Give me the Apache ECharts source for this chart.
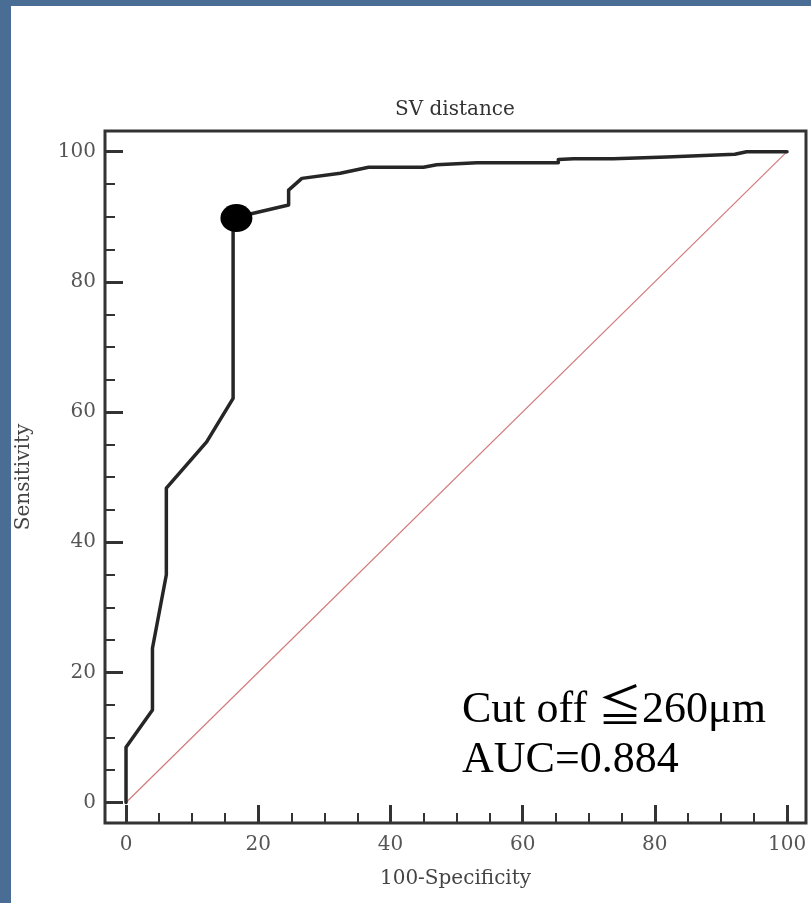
<!DOCTYPE html>
<html>
<head>
<meta charset="utf-8">
<script src="https://cdn.jsdelivr.net/npm/echarts@6/dist/echarts.min.js"></script>
<style>
  html, body { margin: 0; padding: 0; width: 811px; height: 903px; overflow: hidden; background: #4a6d96; }
  #panel { position: absolute; left: 11px; top: 6px; right: 0; bottom: 0; background: #ffffff; }
  #chart { position: absolute; left: 0; top: 0; width: 811px; height: 903px; }
</style>
</head>
<body>
<div id="panel"></div>
<div id="chart"></div>
<script>
// ROC curve (100-Specificity, Sensitivity)
const rocX = [0, 0, 4.0, 4.0, 6.1, 6.1, 12.2, 16.2, 16.2, 24.6, 24.6, 26.6, 32.4, 36.7, 45.0, 47.0, 53.1, 65.4, 65.4, 67.7, 73.7, 81.8, 92.1, 93.9, 100];
const rocY = [0, 8.5, 14.2, 23.7, 35.0, 48.3, 55.4, 62.1, 89.8, 91.8, 94.1, 95.9, 96.7, 97.6, 97.6, 98.0, 98.3, 98.3, 98.8, 98.9, 98.9, 99.2, 99.6, 100, 100];
// Reference diagonal
const diagX = [0, 100];
const diagY = [0, 100];
// Cut-off point
const cutX = [16.7];
const cutY = [89.8];
// Tick values
const majorTicks = [0, 20, 40, 60, 80, 100];
const minorTicks = [5, 10, 15, 25, 30, 35, 45, 50, 55, 65, 70, 75, 85, 90, 95];
// Texts
const titleText = 'SV distance';
const xName = '100-Specificity';
const yName = 'Sensitivity';
const noteLines = ['Cut off \u2266260\u03bcm', 'AUC=0.884'];

const X_MIN = -3.18, X_MAX = 102.87;
const Y_MIN = -3.15, Y_MAX = 103.18;

const FONT = "'DejaVu Serif', serif";
const zip = (a, b) => a.map((v, i) => [v, b[i]]);

const chart = echarts.init(document.getElementById('chart'), null, { renderer: 'canvas' });

const baseAxis = {
  type: 'value', min: X_MIN, max: X_MAX,
  axisLine: { show: false, onZero: false }, splitLine: { show: false }
};

chart.setOption({
  animation: false,
  backgroundColor: 'transparent',
  title: {
    text: titleText, left: 395, top: 100, padding: 0,
    textStyle: { fontFamily: FONT, fontSize: 20, fontWeight: 'normal', color: '#333' }
  },
  grid: {
    left: 105, top: 131, width: 701, height: 692,
    show: true, borderColor: '#333', borderWidth: 3, backgroundColor: 'transparent'
  },
  xAxis: [
    Object.assign({}, baseAxis, {
      position: 'bottom', offset: 0,
      name: xName, nameLocation: 'middle', nameGap: 46,
      nameTextStyle: { fontFamily: FONT, fontSize: 20, color: '#444' },
      axisTick: { show: true, inside: true, length: 18, customValues: majorTicks, lineStyle: { color: '#333', width: 3 } },
      axisLabel: { show: true, customValues: majorTicks, margin: 12, fontFamily: FONT, fontSize: 20, color: '#555' }
    }),
    Object.assign({}, baseAxis, {
      position: 'bottom', offset: 0,
      axisTick: { show: true, inside: true, length: 10, customValues: minorTicks, lineStyle: { color: '#333', width: 2 } },
      axisLabel: { show: false }
    })
  ],
  yAxis: [
    Object.assign({}, baseAxis, {
      min: Y_MIN, max: Y_MAX,
      position: 'left', offset: 0,
      name: yName, nameLocation: 'middle', nameGap: 71,
      nameTextStyle: { fontFamily: FONT, fontSize: 20, color: '#444' },
      axisTick: { show: true, inside: true, length: 18, customValues: majorTicks, lineStyle: { color: '#333', width: 3 } },
      axisLabel: { show: true, customValues: majorTicks, margin: 9, fontFamily: FONT, fontSize: 20, color: '#555' }
    }),
    Object.assign({}, baseAxis, {
      min: Y_MIN, max: Y_MAX,
      position: 'left', offset: 0,
      axisTick: { show: true, inside: true, length: 10, customValues: minorTicks, lineStyle: { color: '#333', width: 2 } },
      axisLabel: { show: false }
    })
  ],
  series: [
    {
      type: 'line', xAxisIndex: 0, yAxisIndex: 0,
      data: zip(diagX, diagY), symbol: 'none', silent: true,
      lineStyle: { color: '#d27a7a', width: 1.2 }, z: 2
    },
    {
      type: 'line', xAxisIndex: 0, yAxisIndex: 0,
      data: zip(rocX, rocY), symbol: 'none',
      lineStyle: { color: '#262626', width: 3.5, join: 'round', cap: 'round' }, z: 3
    },
    {
      type: 'scatter', xAxisIndex: 0, yAxisIndex: 0,
      data: zip(cutX, cutY), symbol: 'circle', symbolSize: [32, 28],
      itemStyle: { color: '#000', opacity: 1 }, z: 4
    }
  ],
  graphic: [
    { type: 'text', x: 462, y: 710, z: 10,
      style: { text: noteLines[0], font: '44px "Liberation Serif", "Noto Sans CJK JP", serif', fill: '#000', verticalAlign: 'middle' } },
    { type: 'text', x: 462, y: 760, z: 10,
      style: { text: noteLines[1], font: '44px "Liberation Serif", serif', fill: '#000', verticalAlign: 'middle' } }
  ]
});
</script>
</body>
</html>
